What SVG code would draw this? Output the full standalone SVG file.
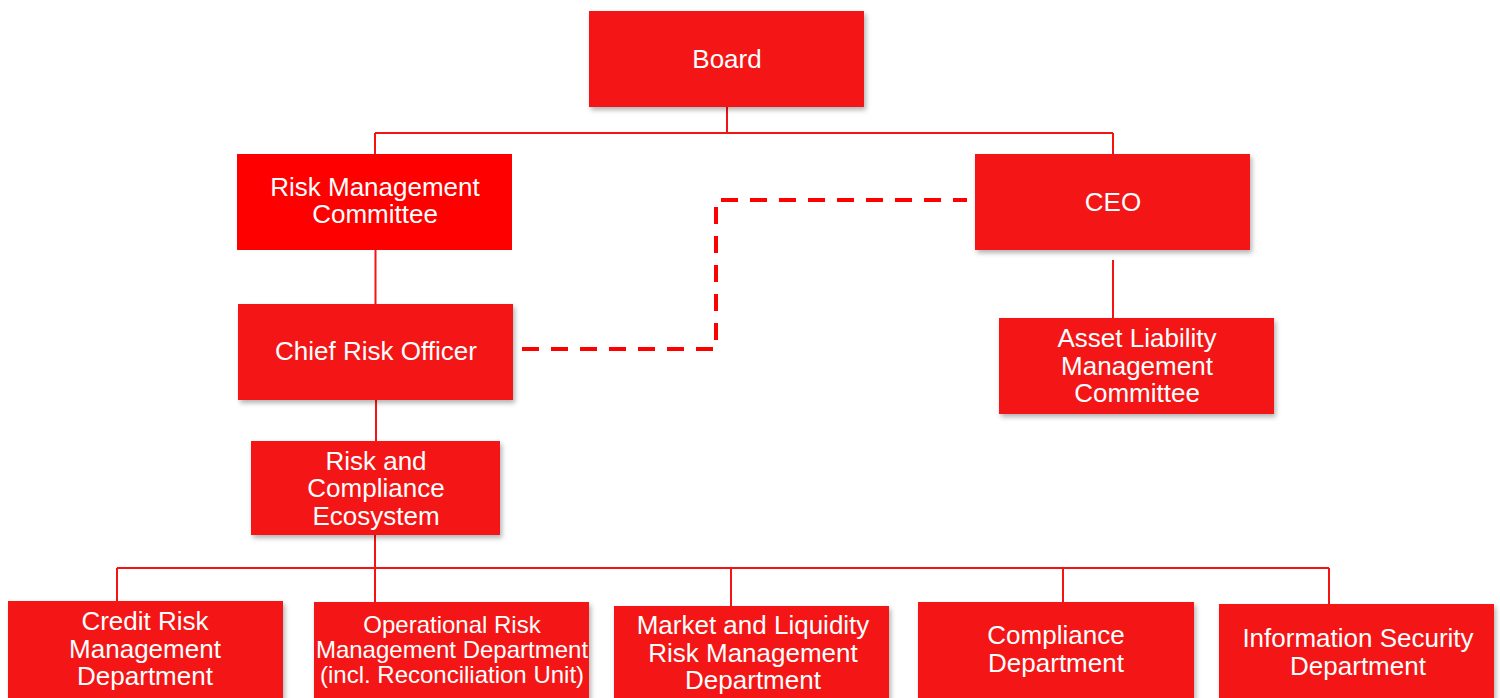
<svg xmlns="http://www.w3.org/2000/svg" width="1500" height="698" viewBox="0 0 1500 698">
<defs>
<filter id="sh" x="-10%" y="-10%" width="125%" height="135%">
<feDropShadow dx="2" dy="3" stdDeviation="2.5" flood-color="#000" flood-opacity="0.3"/>
</filter>
</defs>
<style>
.box{fill:#F41414;filter:url(#sh)}
.flat{fill:#FF0000}
.t{font-family:"Liberation Sans",Arial,sans-serif;font-size:26px;fill:#fff;text-anchor:middle}
.s{font-size:24px}
.ln{stroke:#F41414;stroke-width:2;fill:none}
.dash{stroke:#FF0000;stroke-width:4;fill:none;stroke-dasharray:17 12}
</style>
<rect width="1500" height="698" fill="#fff"/>
<g id="connectors">
<path class="ln" d="M727 107V133M375 133H1113M375 133V154M1113 133V154"/>
<path class="ln" d="M375.5 250V304"/>
<path class="ln" d="M376 400V441"/>
<path class="ln" d="M1113 260V318"/>
<path class="ln" d="M375 535V602M117 568H1329M117 568V601M731 568V606M1063 568V602M1329 568V604"/>
<path class="dash" d="M522 349H716V200H967"/>
</g>
<g id="board"><rect class="box" x="589" y="11" width="275" height="96"/><text class="t" x="727" y="68">Board</text></g>
<g id="rmc"><rect class="flat" x="237" y="154" width="275" height="96"/><text class="t" x="375" y="196">Risk Management</text><text class="t" x="375" y="223">Committee</text></g>
<g id="ceo"><rect class="box" x="975" y="154" width="275" height="96"/><text class="t" x="1113" y="211">CEO</text></g>
<g id="cro"><rect class="box" x="238" y="304" width="275" height="96"/><text class="t" x="376" y="360">Chief Risk Officer</text></g>
<g id="almc"><rect class="box" x="999" y="318" width="275" height="96"/><text class="t" x="1137" y="347">Asset Liability</text><text class="t" x="1137" y="375">Management</text><text class="t" x="1137" y="402">Committee</text></g>
<g id="rce"><rect class="box" x="251" y="441" width="249" height="94"/><text class="t" x="376" y="470">Risk and</text><text class="t" x="376" y="497">Compliance</text><text class="t" x="376" y="525">Ecosystem</text></g>
<g id="credit"><rect class="box" x="8" y="601" width="275" height="100"/><text class="t" x="145" y="630">Credit Risk</text><text class="t" x="145" y="658">Management</text><text class="t" x="145" y="685">Department</text></g>
<g id="oprisk"><rect class="box" x="314" y="602" width="275" height="100"/><text class="t s" x="452" y="633">Operational Risk</text><text class="t s" x="452" y="658">Management Department</text><text class="t s" x="452" y="683">(incl. Reconciliation Unit)</text></g>
<g id="market"><rect class="box" x="614" y="606" width="275" height="100"/><text class="t" x="753" y="634">Market and Liquidity</text><text class="t" x="753" y="662">Risk Management</text><text class="t" x="753" y="689">Department</text></g>
<g id="compliance"><rect class="box" x="918" y="602" width="276" height="100"/><text class="t" x="1056" y="644">Compliance</text><text class="t" x="1056" y="672">Department</text></g>
<g id="infosec"><rect class="box" x="1219" y="604" width="275" height="100"/><text class="t" x="1358" y="647">Information Security</text><text class="t" x="1358" y="675">Department</text></g>
</svg>
